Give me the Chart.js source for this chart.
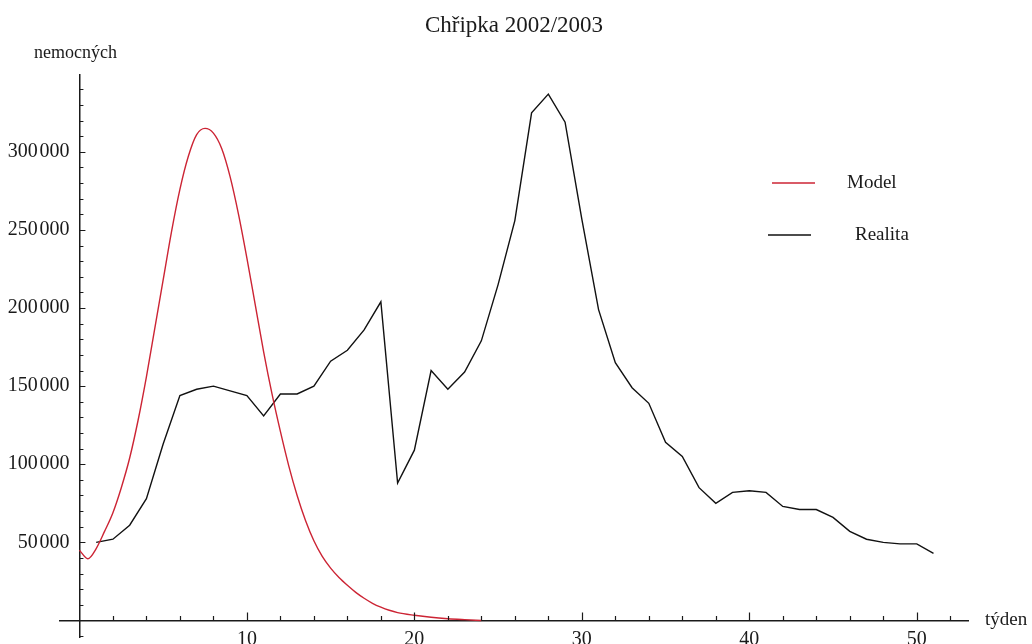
<!DOCTYPE html>
<html>
<head>
<meta charset="utf-8">
<title>Chřipka 2002/2003</title>
<script src="https://cdn.jsdelivr.net/npm/chart.js@4.4.1/dist/chart.umd.min.js"></script>
<style>
  html, body { margin: 0; padding: 0; background: #fff; }
</style>
</head>
<body>
<canvas id="myChart" width="1032" height="644"></canvas>
<script>
// weekly reported cases (Realita), weeks 1..51
const realWeeks = [
  1, 2, 3, 4, 5, 6, 7, 8, 9, 10,
  11, 12, 13, 14, 15, 16, 17, 18, 19, 20,
  21, 22, 23, 24, 25, 26, 27, 28, 29, 30,
  31, 32, 33, 34, 35, 36, 37, 38, 39, 40,
  41, 42, 43, 44, 45, 46, 47, 48, 49, 50, 51
];
const realCases = [
  50000, 52000, 61000, 78000, 113000, 144000, 148000, 150000, 147000, 144000,
  131000, 145000, 145000, 150000, 166000, 173000, 186000, 204000, 88000, 109000,
  160000, 148000, 159000, 179000, 215000, 256000, 325000, 337000, 319000, 257000,
  199000, 165000, 149000, 139000, 114000, 105000, 85000, 75000, 82000, 83000,
  82000, 73000, 71000, 71000, 66000, 57000, 52000, 50000, 49000, 49000, 43000
];

// model curve
const modelWeeks = [
  0, 0.5, 1, 1.5, 2, 2.5, 3, 3.5, 4, 4.5,
  5, 5.5, 6, 6.5, 7, 7.5, 8, 8.5, 9, 9.5,
  10, 10.5, 11, 11.5, 12, 12.5, 13, 13.5, 14, 14.5,
  15, 15.5, 16, 16.5, 17, 17.5, 18, 18.5, 19, 20,
  21, 22, 23, 24
];
const modelCases = [
  45000, 39500, 46000, 57000, 69000, 85000, 104000, 128000, 156000, 187000,
  218000, 249000, 276000, 297000, 311000, 315000, 312000, 302000, 284000, 260000,
  232000, 202000, 172000, 145000, 121000, 99000, 80000, 64000, 51000, 41000,
  33500, 27500, 22500, 18000, 14200, 11000, 8500, 6500, 5000, 3300,
  2000, 1100, 500, 0
];

const seriesNames = ['Model', 'Realita'];
const chartTitle = 'Chřipka 2002/2003';
const yAxisName = 'nemocných';
const xAxisName = 'týden';

// axis ranges, labelled ticks and tick marks
const xMin = -1.16, xMax = 53.06;
const yMin = -10600, yMax = 349200;
const xLabelValues = [10, 20, 30, 40, 50];
const yLabelValues = [50000, 100000, 150000, 200000, 250000, 300000];
const xMajorStep = 10, xMinorStep = 2, xTickLast = 52;
const yMajorStep = 50000, yMinorStep = 10000, yTickFirst = -10000, yTickLast = 340000;

const axisColor = '#1a1a1a';
const textColor = '#1a1a1a';
const fontFamily = '"Liberation Serif", "Times New Roman", serif';

function groupDigits(v) {
  return String(v).replace(/\B(?=(\d{3})+(?!\d))/g, '\u200A');
}

const decor = {
  id: 'decor',
  afterDraw(chart) {
    const {ctx, scales: {x, y}} = chart;
    const x0 = x.getPixelForValue(0);
    const y0 = y.getPixelForValue(0);
    ctx.save();
    ctx.strokeStyle = axisColor;
    ctx.lineWidth = 1.2;
    ctx.beginPath();
    for (let v = yTickFirst; v <= yTickLast; v += yMinorStep) {
      if (v === 0) continue;
      const p = Math.round(y.getPixelForValue(v)) + 0.5;
      const len = v % yMajorStep === 0 ? 6 : 4;
      ctx.moveTo(x0, p);
      ctx.lineTo(x0 + len, p);
    }
    for (let t = xMinorStep; t <= xTickLast; t += xMinorStep) {
      const p = Math.round(x.getPixelForValue(t)) + 0.5;
      const len = t % xMajorStep === 0 ? 8 : 4.5;
      ctx.moveTo(p, y0);
      ctx.lineTo(p, y0 - len);
    }
    ctx.stroke();

    // axis names
    ctx.fillStyle = textColor;
    ctx.font = '18px ' + fontFamily;
    ctx.textBaseline = 'middle';
    ctx.textAlign = 'center';
    ctx.fillText(yAxisName, x0 - 4, chart.chartArea.top - 22);
    ctx.font = '19px ' + fontFamily;
    ctx.textAlign = 'left';
    ctx.fillText(xAxisName, chart.chartArea.right + 17, y0);

    // legend
    const rows = [
      {y: 183, lineX: 772, textX: 847},
      {y: 235, lineX: 768, textX: 855}
    ];
    ctx.font = '19px ' + fontFamily;
    chart.data.datasets.forEach((ds, i) => {
      const r = rows[i];
      ctx.strokeStyle = ds.borderColor;
      ctx.lineWidth = 1.5;
      ctx.beginPath();
      ctx.moveTo(r.lineX, r.y);
      ctx.lineTo(r.lineX + 43, r.y);
      ctx.stroke();
      ctx.fillStyle = textColor;
      ctx.fillText(ds.label, r.textX, r.y);
    });
    ctx.restore();
  }
};

// axes sit at the origin, so they should not push the plot area around
function noScalePadding(scale) {
  scale.paddingTop = 0;
  scale.paddingBottom = 0;
  scale.paddingLeft = 0;
  scale.paddingRight = 0;
}

const data = {
  datasets: [{
    label: seriesNames[0],
    data: modelWeeks.map((w, i) => ({x: w, y: modelCases[i]})),
    borderColor: 'rgb(204, 36, 52)',
    borderWidth: 1.4,
    showLine: true,
    pointRadius: 0,
    cubicInterpolationMode: 'monotone'
  }, {
    label: seriesNames[1],
    data: realWeeks.map((w, i) => ({x: w, y: realCases[i]})),
    borderColor: 'rgb(17, 17, 17)',
    borderWidth: 1.4,
    showLine: true,
    pointRadius: 0,
    tension: 0
  }]
};

const config = {
  type: 'scatter',
  data: data,
  options: {
    responsive: false,
    animation: false,
    devicePixelRatio: 1,
    layout: {
      padding: {left: 60, right: 64, top: 0, bottom: 7}
    },
    plugins: {
      legend: {display: false},
      tooltip: {enabled: false},
      title: {
        display: true,
        text: chartTitle,
        color: textColor,
        font: {family: fontFamily, size: 23, weight: 'normal', lineHeight: 1.2},
        padding: {top: 12, bottom: 35.4}
      }
    },
    scales: {
      x: {
        type: 'linear',
        min: xMin,
        max: xMax,
        position: {y: 0},
        grid: {display: false, drawTicks: false},
        border: {display: true, color: axisColor, width: 1.5},
        afterBuildTicks: (scale) => { scale.ticks = xLabelValues.map(v => ({value: v})); },
        afterFit: noScalePadding,
        ticks: {
          autoSkip: false,
          maxRotation: 0,
          padding: 7,
          color: textColor,
          font: {family: fontFamily, size: 20},
          callback: (v) => String(v)
        }
      },
      y: {
        type: 'linear',
        min: yMin,
        max: yMax,
        position: {x: 0},
        grid: {display: false, drawTicks: false},
        border: {display: true, color: axisColor, width: 1.5},
        afterBuildTicks: (scale) => { scale.ticks = yLabelValues.map(v => ({value: v})); },
        afterFit: noScalePadding,
        ticks: {
          autoSkip: false,
          color: textColor,
          font: {family: fontFamily, size: 20},
          // en space keeps the labels off the axis line
          callback: (v) => groupDigits(v) + '\u2002'
        }
      }
    }
  },
  plugins: [decor]
};

new Chart(document.getElementById('myChart'), config);
</script>
</body>
</html>
